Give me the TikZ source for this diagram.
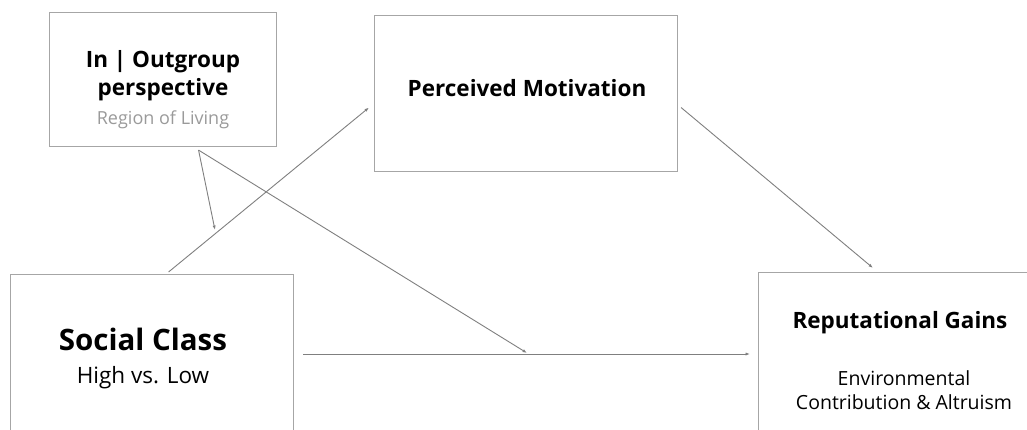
\documentclass[tikz,border=0pt]{standalone}
\usepackage{fontspec}
\setmainfont{Open Sans}
\usetikzlibrary{arrows.meta,calc}
\definecolor{boxgray}{HTML}{A6A6A6}
\definecolor{linegray}{HTML}{7F7F7F}
\definecolor{subgray}{HTML}{9A9A9A}
\begin{document}
\begin{tikzpicture}[x=1pt,y=-1pt,
  box/.style={draw=boxgray, line width=1.1pt, anchor=north west, inner sep=0pt},
  conn/.style={draw=linegray, line width=0.9pt, -{Latex[length=4.5pt,width=3.2pt]}},
  lbl/.style={inner sep=0pt, anchor=base, text=black},
  bigb/.style={font=\bfseries\fontsize{29.5}{32}\selectfont},
  midb/.style={font=\bfseries\fontsize{22.5}{30}\selectfont},
  subt/.style={font=\fontsize{22.5}{24}\selectfont},
  smallt/.style={font=\fontsize{19.5}{25}\selectfont},
  grayt/.style={font=\fontsize{18}{25}\selectfont, text=subgray}
]
\useasboundingbox (0,0) rectangle (1027,430);
\clip (0,0) rectangle (1027,430);
% boxes
\node[box, minimum width=227pt, minimum height=134pt] (io) at (49,12) {};
\node[box, minimum width=303pt, minimum height=156pt] (pm) at (374,15) {};
\node[box, minimum width=283pt, minimum height=200pt] (sc) at (10,274) {};
\node[box, minimum width=290pt, minimum height=200pt] (rg) at (758,272) {};
% texts
\node[lbl, midb] (iot1) at (163,68) {In | Outgroup};
\node[lbl, midb] (iot2) at (163,96) {perspective};
\node[lbl, grayt] (iosub) at (163,125) {Region of Living};
\node[lbl, midb] (pmt) at (527,97) {Perceived Motivation};
\node[lbl, bigb] (sct) at (143,350) {Social Class};
\node[lbl, subt] (scsub) at (143,383) {High vs. Low};
\node[lbl, midb] (rgt) at (900,328) {Reputational Gains};
\node[lbl, smallt] (rgsub1) at (904,385) {Environmental};
\node[lbl, smallt] (rgsub2) at (904,409) {Contribution \& Altruism};
% connector points
\coordinate (iosrc) at ($(io.south)+(35.5,3)$);
\coordinate (m1) at (215,230);
\coordinate (m2) at (527,353);
% connectors
\draw[conn] ($(sc.north)+(16.5,-2)$) -- ($(pm.west)+(-5,14)$);
\draw[conn] (iosrc) -- (m1);
\draw[conn] (iosrc) -- (m2);
\draw[conn] ($(pm.east)+(3,14)$) -- ($(rg.north west)+(115,-4)$);
\draw[conn] ($(sc.north east)+(9,80)$) -- ($(rg.north west)+(-8,82)$);
\end{tikzpicture}
\end{document}
